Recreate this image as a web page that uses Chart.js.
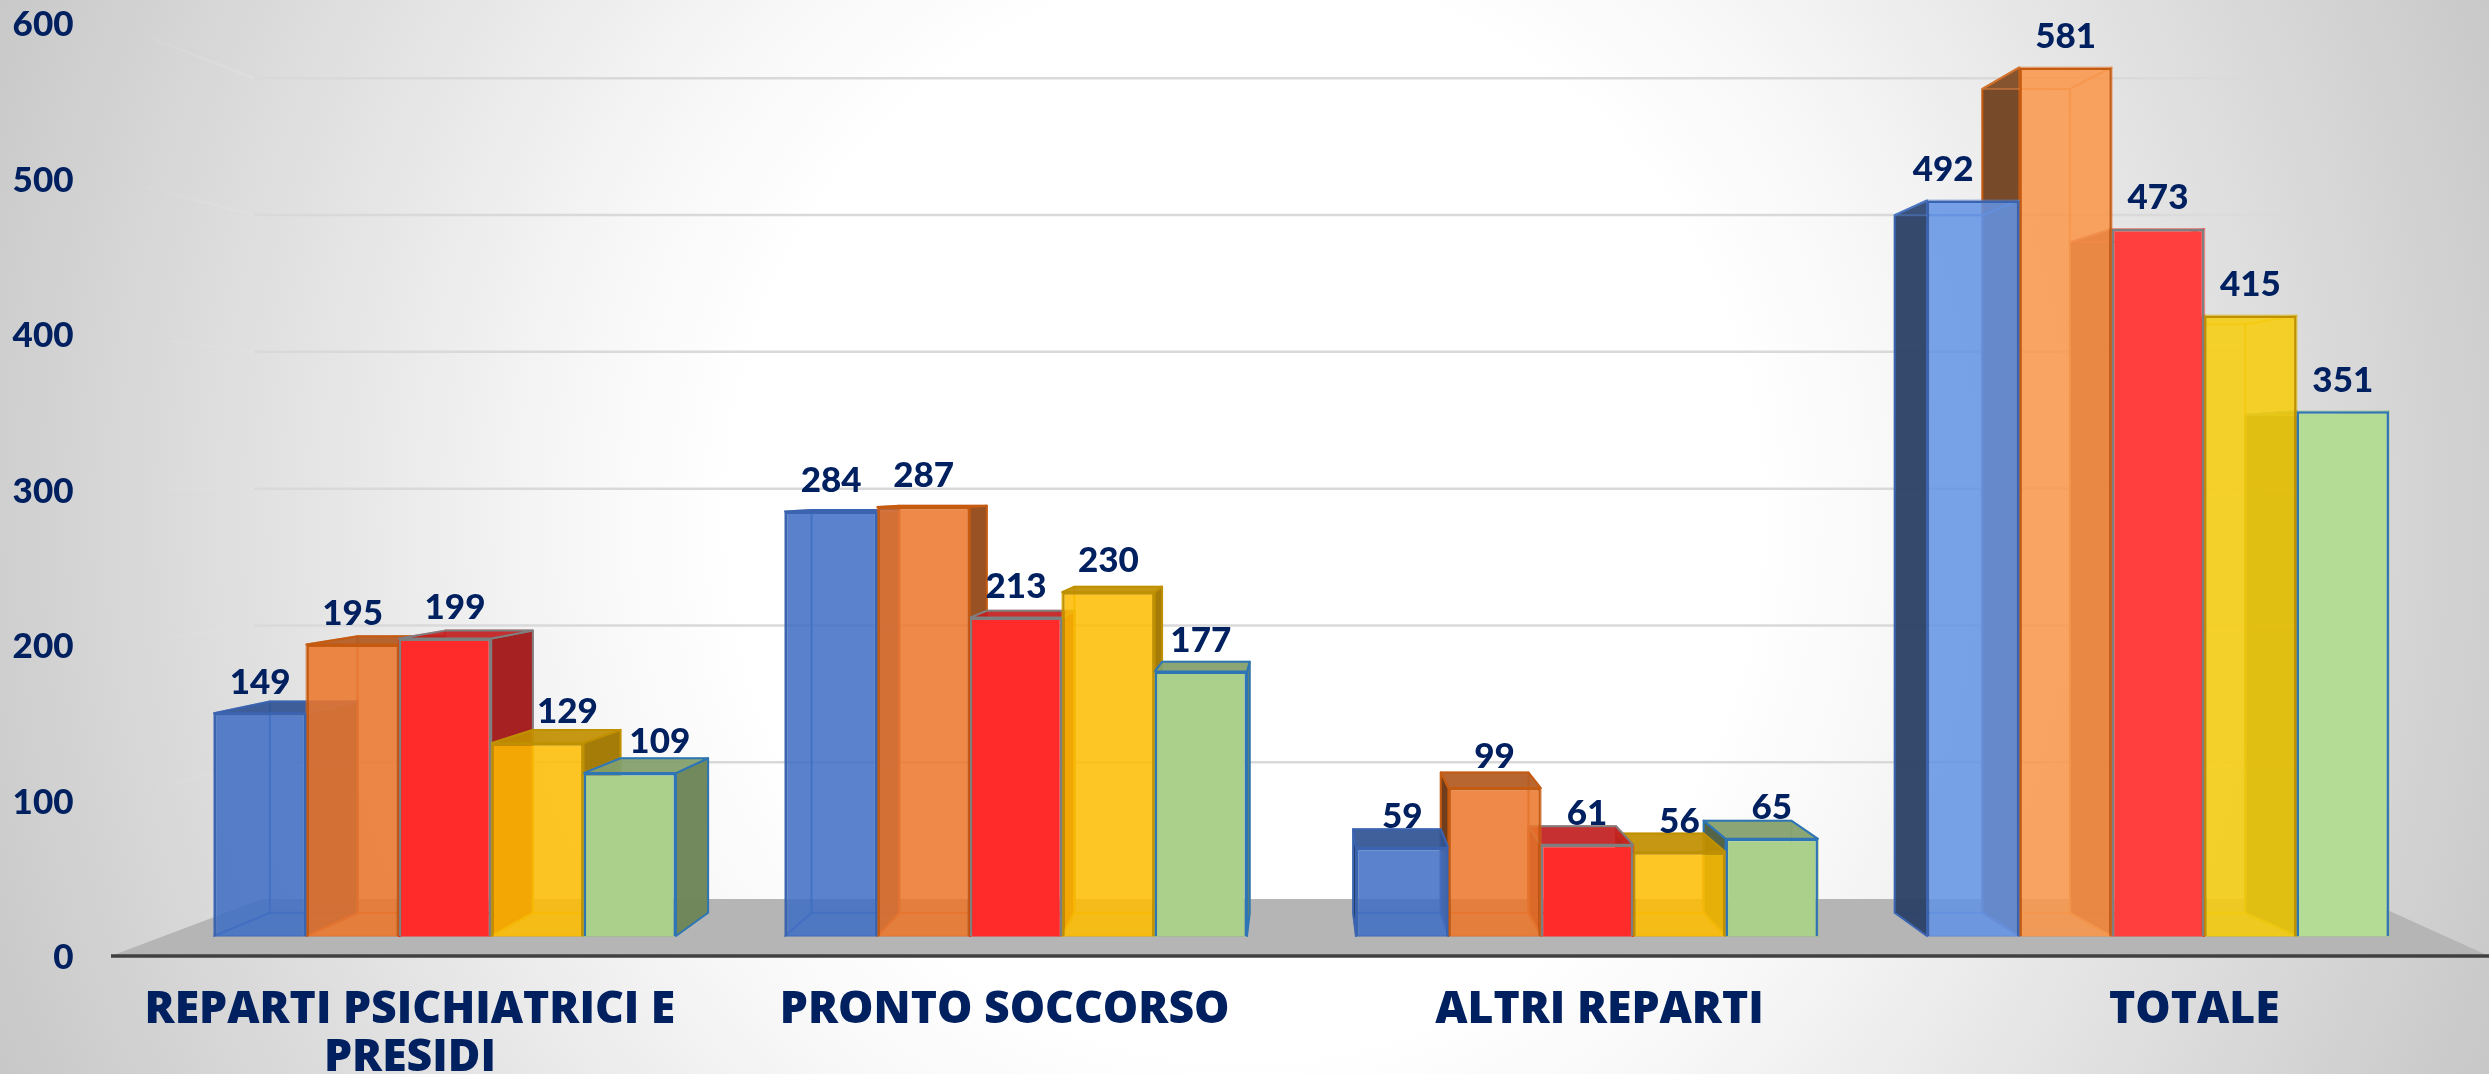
<!DOCTYPE html>
<html><head><meta charset="utf-8">
<style>
html,body{margin:0;padding:0;width:2489px;height:1074px;overflow:hidden;
background:radial-gradient(ellipse 1345px 1420px at 50% 48%,#fff 38%,#f7f7f7 50%,#e4e4e4 70%,#c8c8c8 100%);}
canvas{display:block}
</style>
<script src="https://cdn.jsdelivr.net/npm/chart.js@4/dist/chart.umd.min.js"></script>
</head><body><canvas id="c" width="2489" height="1074"></canvas>
<script>
const categories = ["REPARTI PSICHIATRICI E PRESIDI","PRONTO SOCCORSO","ALTRI REPARTI","TOTALE"];
const categoryLines = [["REPARTI PSICHIATRICI E","PRESIDI"],["PRONTO SOCCORSO"],["ALTRI REPARTI"],["TOTALE"]];
const seriesA = [149,284,59,492];
const seriesB = [195,287,99,581];
const seriesC = [199,213,61,473];
const seriesD = [129,230,56,415];
const seriesE = [109,177,65,351];
const allSeries = [seriesA,seriesB,seriesC,seriesD,seriesE];
const tickValues = [0,100,200,300,400,500,600];

// styles (kept apart from the data)
const basePalette  = [[64,110,196],[235,118,44],[255,42,42],[254,188,0],[171,208,139]];
const totalPalette = [[99,147,228],[250,151,74],[255,62,62],[247,205,10],[181,220,149]];
const frontAlpha   = [0.85,0.85,1,0.85,1];
const borderColors = ["#3b64b0","#c55a11","#7f7f7f","#bf9000","#2e75b6"];
const labelShiftX  = [[0,0,0,-30],[0,0,0,0],[10,0,0,0],[30,0,0,0],[30,0,0,0]];
const INK = "#002060";
const VP = {x:1300,y:485};
const DEPTH = 0.0515;
const WALL_DEPTH = {left:262,right:2363};

const rgba=(c,a,m=1)=>`rgba(${Math.round(c[0]*m)},${Math.round(c[1]*m)},${Math.round(c[2]*m)},${a})`;
const paletteFor=j=>j===3?totalPalette:basePalette;
const back=p=>({x:p.x+DEPTH*(VP.x-p.x),y:p.y+DEPTH*(VP.y-p.y)});

function quad(ctx,pts,fill,stroke,lw){
  ctx.beginPath();pts.forEach((p,i)=>i?ctx.lineTo(p.x,p.y):ctx.moveTo(p.x,p.y));ctx.closePath();
  if(fill){ctx.fillStyle=fill;ctx.fill();}
  if(stroke){ctx.strokeStyle=stroke;ctx.lineWidth=lw||2;ctx.lineJoin='round';ctx.stroke();}
}
function drawBox(chart,i,j){
  const ctx=chart.ctx,bar=chart.getDatasetMeta(i).data[j];
  const w=bar.width,l=bar.x-w/2,r=bar.x+w/2,t=bar.y,b=bar.base;
  const c=paletteFor(j)[i],edge=borderColors[i];
  const ftl={x:l,y:t},ftr={x:r,y:t},fbl={x:l,y:b},fbr={x:r,y:b};
  const btl=back(ftl),btr=back(ftr),bbl=back(fbl),bbr=back(fbr);
  const inner=rgba(c,0.5,0.9);
  quad(ctx,[btl,btr,bbr,bbl],rgba(c,0.05),inner,2);
  quad(ctx,[fbl,fbr,bbr,bbl],rgba(c,0.14),inner,2);
  const leftOut=l>VP.x,rightOut=r<VP.x;
  quad(ctx,[ftl,btl,bbl,fbl],leftOut?rgba(c,0.96,0.45):rgba(c,0.12),leftOut?edge:inner,2);
  quad(ctx,[ftr,btr,bbr,fbr],rightOut?rgba(c,0.97,0.64):rgba(c,0.12),rightOut?edge:inner,2);
  const above=t>VP.y;
  quad(ctx,[ftl,ftr,btr,btl],above?rgba(c,0.92,0.76):rgba(c,0.12),above?edge:inner,2);
}
const axisPixel=chart=>chart.scales.y.getPixelForValue(-13.4);

const scene={
  id:'scene',
  beforeDatasetsDraw(chart){
    const ctx=chart.ctx,wall=chart.scales.yWall,ax=axisPixel(chart);
    ctx.save();
    const y0=wall.getPixelForValue(0);
    // floor
    quad(ctx,[{x:111,y:ax},{x:WALL_DEPTH.left,y:y0},{x:WALL_DEPTH.right,y:y0},{x:2489,y:ax}],"#b5b5b5");
    // wall grid and its fading side returns
    tickValues.slice(1).forEach(v=>{
      const y=wall.getPixelForValue(v);
      const g=ctx.createLinearGradient(254,0,2350,0);
      g.addColorStop(0,"#d9d9d9");g.addColorStop(0.9,"#d9d9d9");g.addColorStop(1,"rgba(217,217,217,0)");
      ctx.strokeStyle=g;ctx.lineWidth=2.5;
      ctx.beginPath();ctx.moveTo(254,y);ctx.lineTo(2350,y);ctx.stroke();
      const ex=118,ey=y+(y-VP.y)*(254-ex)/(VP.x-254);
      const s=ctx.createLinearGradient(254,0,ex,0);
      s.addColorStop(0,"rgba(225,225,225,0.55)");s.addColorStop(1,"rgba(225,225,225,0)");
      ctx.strokeStyle=s;ctx.beginPath();ctx.moveTo(254,y);ctx.lineTo(ex,ey);ctx.stroke();
    });
    // extruded bodies, far to near
    categories.forEach((_,j)=>{
      const cx=chart.getDatasetMeta(2).data[j].x;
      const order=[0,1,2,3,4];
      if(cx>VP.x)order.reverse();
      order.forEach(i=>drawBox(chart,i,j));
    });
    ctx.restore();
  },
  afterDatasetsDraw(chart){
    const ctx=chart.ctx,ax=axisPixel(chart);
    ctx.save();
    ctx.strokeStyle="#404040";ctx.lineWidth=3.5;
    ctx.beginPath();ctx.moveTo(111,ax);ctx.lineTo(2489,ax);ctx.stroke();
    ctx.font="900 35px Lato";ctx.fillStyle=INK;ctx.textAlign="center";ctx.textBaseline="middle";
    allSeries.forEach((vals,i)=>vals.forEach((v,j)=>{
      const bar=chart.getDatasetMeta(i).data[j];
      ctx.fillText(String(v),bar.x+labelShiftX[i][j],bar.y-31);
    }));
    ctx.restore();
  }
};

new Chart(document.getElementById('c'),{
  type:'bar',
  data:{
    labels:categories,
    datasets:allSeries.map((vals,i)=>({
      label:"S"+(i+1),data:vals,xAxisID:'x',yAxisID:'y',
      backgroundColor:categories.map((_,j)=>rgba(paletteFor(j)[i],frontAlpha[i])),
      borderColor:borderColors[i],borderWidth:2.5,
      barPercentage:1,categoryPercentage:0.809
    }))
  },
  plugins:[scene],
  options:{
    responsive:false,animation:false,
    layout:{autoPadding:false,padding:{top:25,left:0,right:45.5,bottom:0}},
    plugins:{legend:{display:false},tooltip:{enabled:false},title:{display:false}},
    scales:{
      x:{type:'category',display:false,grid:{display:false}},
      y:{type:'linear',display:false,min:-14.7,max:609.4,grid:{display:false}},
      yWall:{type:'linear',display:false,min:-43.1,max:638.9,grid:{display:false}},
      yTicks:{type:'linear',position:'left',min:0,max:600,
        grid:{display:false},border:{display:false},
        afterFit:s=>{s.width=159.5;s.paddingTop=0;s.paddingBottom=0;},
        afterBuildTicks:s=>{s.ticks=tickValues.map(v=>({value:v}));},
        ticks:{padding:78,color:INK,font:{family:'Lato',weight:'900',size:35}}},
      xLabels:{type:'linear',position:'bottom',offset:false,min:-0.421,max:3.419,
        grid:{display:false},border:{display:false},
        afterFit:s=>{s.height=116;},
        afterBuildTicks:s=>{s.ticks=categoryLines.map((_,k)=>({value:k}));},
        ticks:{padding:20,color:INK,autoSkip:false,maxRotation:0,minRotation:0,
          font:{family:'Open Sans',weight:'800',size:44.5,lineHeight:1.08},
          callback:v=>categoryLines[v]}}
    }
  }
});
</script></body></html>
